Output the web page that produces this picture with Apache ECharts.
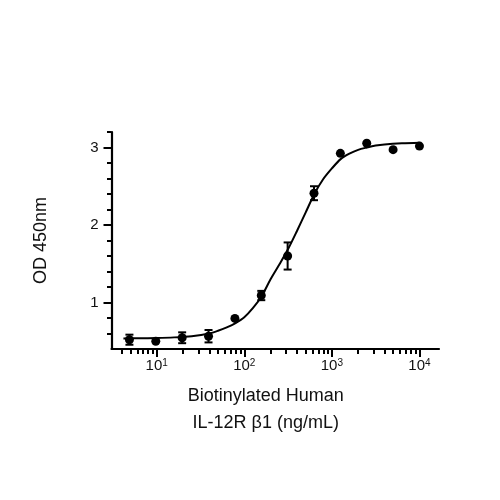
<!DOCTYPE html>
<html>
<head>
<meta charset="utf-8">
<script src="https://cdn.jsdelivr.net/npm/echarts@6/dist/echarts.min.js"></script>
<style>
  html, body { margin: 0; padding: 0; background: #fff; }
  #main { width: 500px; height: 500px; }
</style>
</head>
<body>
<div id="main"></div>
<script>
// 浓度 (ng/mL)，两倍稀释
var concentrations = [4.883, 9.766, 19.53, 39.06, 78.13, 156.3, 312.5, 625, 1250, 2500, 5000, 10000];
// OD450 均值和误差
var odMeans = [0.52, 0.50, 0.545, 0.565, 0.795, 1.09, 1.60, 2.41, 2.925, 3.055, 2.972, 3.018];
var odErrors = [0.065, 0, 0.07, 0.08, 0, 0.06, 0.175, 0.09, 0, 0, 0, 0];
// 拟合曲线 (从图上读取, x 为 log10 浓度)
var fitLogConc = [0.62, 0.8, 1.0, 1.2, 1.4, 1.6, 1.7, 1.8, 1.9, 2.0, 2.1, 2.2, 2.3, 2.4, 2.5, 2.6, 2.7, 2.8, 2.9, 3.0, 3.1, 3.2, 3.3, 3.4, 3.5, 3.6, 3.8, 4.0];
var fitOD = [0.537, 0.539, 0.542, 0.550, 0.566, 0.600, 0.635, 0.680, 0.735, 0.810, 0.930, 1.085, 1.300, 1.490, 1.690, 1.920, 2.160, 2.400, 2.590, 2.730, 2.850, 2.920, 2.970, 3.000, 3.025, 3.040, 3.055, 3.062];
// 刻度
var xMajorTicks = [10, 100, 1000, 10000];
var xMinorTicks = [4, 5, 6, 7, 8, 9, 20, 30, 40, 50, 60, 70, 80, 90,
    200, 300, 400, 500, 600, 700, 800, 900, 2000, 3000, 4000, 5000, 6000, 7000, 8000, 9000];
var yMajorTicks = [1, 2, 3];
var yMinorTicks = [0.6, 0.8, 1.2, 1.4, 1.6, 1.8, 2.2, 2.4, 2.6, 2.8, 3.2];

var FONT = '"Liberation Sans", Arial, sans-serif';
var xMin = 0.484, xMax = 4.223;

function log10(v) { return Math.log(v) / Math.LN10; }

var pointData = concentrations.map(function (c, i) {
    return [log10(c), odMeans[i]];
});
var errData = concentrations.map(function (c, i) {
    return [log10(c), odMeans[i] - odErrors[i], odMeans[i] + odErrors[i]];
});
var fitData = fitLogConc.map(function (x, i) {
    return [x, fitOD[i]];
});

var chart = echarts.init(document.getElementById('main'));
var option = {
    animation: false,
    backgroundColor: '#fff',
    grid: { left: 111.5, right: 61, top: 132, bottom: 151 },
    xAxis: [{
        type: 'value',
        min: xMin,
        max: xMax,
        name: 'Biotinylated Human\nIL-12R β1 (ng/mL)',
        nameLocation: 'middle',
        nameGap: 34,
        nameTextStyle: {
            fontFamily: FONT, fontSize: 18, color: '#111',
            lineHeight: 27, padding: [0, 19, 0, 0]
        },
        splitLine: { show: false },
        axisLine: { show: true, lineStyle: { color: '#000', width: 2.2 } },
        axisTick: {
            show: true, length: 8,
            lineStyle: { color: '#000', width: 2 },
            customValues: xMajorTicks.map(log10)
        },
        axisLabel: {
            margin: 9,
            customValues: xMajorTicks.map(log10),
            formatter: function (v) {
                return '{b|10}{s|' + Math.round(v) + '}';
            },
            rich: {
                b: { fontFamily: FONT, fontSize: 15, color: '#111' },
                s: { fontFamily: FONT, fontSize: 10, color: '#111', padding: [0, 0, 6, 0] }
            }
        }
    }, {
        type: 'value',
        min: xMin,
        max: xMax,
        position: 'bottom',
        splitLine: { show: false },
        axisLine: { show: false },
        axisTick: {
            show: true, length: 5,
            lineStyle: { color: '#000', width: 2 },
            customValues: xMinorTicks.map(log10)
        },
        axisLabel: { show: false }
    }],
    yAxis: [{
        type: 'value',
        min: 0.4,
        max: 3.2,
        name: 'OD 450nm',
        nameLocation: 'middle',
        nameGap: 61,
        nameTextStyle: { fontFamily: FONT, fontSize: 18, color: '#111' },
        splitLine: { show: false },
        axisLine: { show: true, lineStyle: { color: '#000', width: 2.2 } },
        axisTick: {
            show: true, length: 8,
            lineStyle: { color: '#000', width: 2 },
            customValues: yMajorTicks
        },
        axisLabel: {
            margin: 13,
            customValues: yMajorTicks,
            fontFamily: FONT, fontSize: 15, color: '#111'
        }
    }, {
        type: 'value',
        min: 0.4,
        max: 3.2,
        position: 'left',
        splitLine: { show: false },
        axisLine: { show: false },
        axisTick: {
            show: true, length: 4.5,
            lineStyle: { color: '#000', width: 2 },
            customValues: yMinorTicks
        },
        axisLabel: { show: false }
    }],
    series: [{
        // 拟合曲线
        type: 'line',
        data: fitData,
        smooth: 0.3,
        showSymbol: false,
        lineStyle: { color: '#000', width: 2 },
        z: 2
    }, {
        // 误差棒
        type: 'custom',
        data: errData,
        z: 3,
        renderItem: function (params, api) {
            if (api.value(2) - api.value(1) <= 0) return null;
            var lo = api.coord([api.value(0), api.value(1)]);
            var hi = api.coord([api.value(0), api.value(2)]);
            var w = 4;
            var st = { stroke: '#000', lineWidth: 2 };
            return {
                type: 'group',
                children: [
                    { type: 'line', shape: { x1: lo[0], y1: lo[1], x2: hi[0], y2: hi[1] }, style: st },
                    { type: 'line', shape: { x1: lo[0] - w, y1: lo[1], x2: lo[0] + w, y2: lo[1] }, style: st },
                    { type: 'line', shape: { x1: hi[0] - w, y1: hi[1], x2: hi[0] + w, y2: hi[1] }, style: st }
                ]
            };
        }
    }, {
        // 数据点
        type: 'scatter',
        data: pointData,
        symbol: 'circle',
        symbolSize: 9,
        itemStyle: { color: '#000', opacity: 1 },
        z: 4
    }]
};
chart.setOption(option);
</script>
</body>
</html>
